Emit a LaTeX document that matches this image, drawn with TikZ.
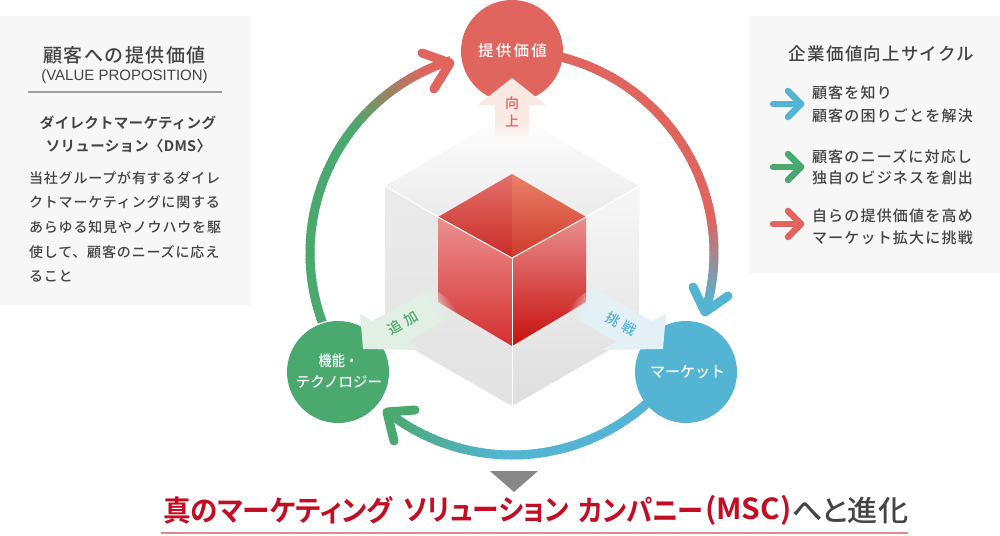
\documentclass[tikz,border=0pt]{standalone}
\usepackage{graphicx}
\usepackage{fontspec}
\usetikzlibrary{fadings,calc}
\setmainfont[BoldFont={Noto Sans CJK JP Bold}]{Noto Sans CJK JP Medium}
\newfontfamily\jpp[RawFeature=+palt,BoldFont={Noto Sans CJK JP Bold}]{Noto Sans CJK JP Medium}
\newfontfamily\lat{Liberation Sans}
\definecolor{cred}{HTML}{E0655E}
\definecolor{cblue}{HTML}{53B5D3}
\definecolor{cgreen}{HTML}{4AA96E}
\definecolor{panel}{HTML}{F7F7F7}
\definecolor{ink}{HTML}{444444}
\definecolor{deep}{HTML}{C30D23}
\definecolor{ulc}{HTML}{E2868F}
\definecolor{tl1}{HTML}{E4706A}\definecolor{tl2}{HTML}{C92B26}
\definecolor{tr1}{HTML}{EA8068}\definecolor{tr2}{HTML}{CF3A2C}
\definecolor{fl1}{HTML}{EC9090}\definecolor{fl2}{HTML}{D53030}
\definecolor{fr1}{HTML}{E99090}\definecolor{fr2}{HTML}{C70F0C}
\definecolor{pinkfade}{HTML}{FAE8E2}
\definecolor{greenfade}{HTML}{E2EFE5}
\definecolor{bluefade}{HTML}{E3F1F6}
\pgfdeclareverticalshading{tailshade}{100bp}{color(0bp)=(pgftransparent!100); color(45bp)=(pgftransparent!100); color(55bp)=(pgftransparent!0); color(100bp)=(pgftransparent!0)}
\pgfdeclarefading{tailfade}{\pgfuseshading{tailshade}}
\newcommand\fz[2]{\fontsize{#1}{#2}\selectfont}
\newcommand\ls[1]{\addfontfeatures{LetterSpace=#1}}
\tikzset{
  hubnode/.style={circle,minimum size=102pt,inner sep=0pt,text=white,align=center},
  label/.style={inner sep=0pt,outer sep=0pt,text=ink},
  ring/.style={line width=9pt},
  chev/.style={line width=9pt,line cap=round,line join=round},
  keyarrow/.style={line width=6.5pt,line cap=round,line join=round},
  headline/.style={inner sep=0pt,anchor=west},
}
\begin{document}
\begin{tikzpicture}[x=1pt,y=-1pt]
\useasboundingbox (0,0) rectangle (1000,535);
\fill[white] (0,0) rectangle (1000,535);
% panels
\fill[panel] (0,16) rectangle (251,305);
\fill[panel] (749,16) rectangle (1000,273);
% left panel text
\node[label] (lt1) at (124.5,55) {\fz{19}{22}\ls{8}顧客への提供価値};
\node[label] (lt2) at (124.5,77) {\lat\fz{15}{17}(VALUE PROPOSITION)};
\coordinate (ruleL) at (28,92); \coordinate (ruleR) at (222,92);
\draw[color=black!38,line width=1.3pt] (ruleL) -- (ruleR);
\node[label] (lt3) at (128,123) {\fz{14.5}{17}\bfseries\ls{2}ダイレクトマーケティング};
\node[label] (lt4) at (128.5,146) {\fz{14.5}{17}\bfseries\ls{2}ソリューション〈DMS〉};
\node[label,anchor=west] (lb1) at (29,178) {\fz{14}{16}\ls{6}当社グループが有するダイレ};
\node[label,anchor=west] (lb2) at (29,202.5) {\fz{14}{16}\ls{6}クトマーケティングに関する};
\node[label,anchor=west] (lb3) at (29,227) {\fz{14}{16}\ls{6}あらゆる知見やノウハウを駆};
\node[label,anchor=west] (lb4) at (29,252) {\fz{14}{16}\ls{6}使して、顧客のニーズに応え};
\node[label,anchor=west] (lb5) at (29,276) {\fz{14}{16}\ls{6}ること};
% right panel text
\node[label] (rt) at (881.5,54) {\fz{17.5}{20}\ls{7}企業価値向上サイクル};
\foreach \yy/\cc/\nn in {104/cblue/a,167/cgreen/b,224/cred/c}{
  \coordinate (s\nn) at (773,\yy);
  \coordinate (t\nn) at (801,\yy);
  \coordinate (u\nn) at (788,\yy-13);
  \coordinate (v\nn) at (788,\yy+13);
  \draw[keyarrow,color=\cc] (s\nn) -- (t\nn);
  \draw[keyarrow,color=\cc] (u\nn) -- (t\nn) -- (v\nn);
}
\node[label,anchor=west] (r1) at (812,93) {\fz{15}{18}\ls{8}顧客を知り};
\node[label,anchor=west] (r2) at (812,116) {\fz{15}{18}\ls{8}顧客の困りごとを解決};
\node[label,anchor=west] (r3) at (812,157) {\fz{15}{18}\ls{8}顧客のニーズに対応し};
\node[label,anchor=west] (r4) at (812,178) {\fz{15}{18}\ls{8}独自のビジネスを創出};
\node[label,anchor=west] (r5) at (812,216) {\fz{15}{18}\ls{8}自らの提供価値を高め};
\node[label,anchor=west] (r6) at (812,238) {\fz{15}{18}\ls{8}マーケット拡大に挑戦};
% outer cube
\shade[top color=white,bottom color=black!11] (512,112) -- (639,186) -- (512,260) -- (385,186) -- cycle;
\shade[top color=black!8,middle color=black!13,bottom color=black!11] (385,186) -- (512,260) -- (512,406) -- (385,333) -- cycle;
\shade[top color=black!3,middle color=black!12,bottom color=black!13] (639,186) -- (512,260) -- (512,406) -- (639,333) -- cycle;
\draw[white,line width=1pt] (385,186) -- (512,260) -- (639,186);
\draw[white,line width=1pt] (512,260) -- (512,406);
% inner cube
\shade[shading angle=-20,top color=tl1,bottom color=tl2] (512,174) -- (512,258) -- (438,217) -- cycle;
\shade[shading angle=20,top color=tr1,bottom color=tr2] (512,174) -- (586,217) -- (512,258) -- cycle;
\shade[shading angle=-45,top color=fl1,bottom color=fl2] (438,217) -- (512,258) -- (512,346) -- (438,302) -- cycle;
\shade[top color=fr1,bottom color=fr2] (586,217) -- (512,258) -- (512,346) -- (586,302) -- cycle;
\draw[white,line width=1pt] (438,217) -- (512,258) -- (586,217);
\draw[white,line width=1pt] (512,258) -- (512,346);
% cycle ring
\coordinate (hub) at (512,253);
\foreach \a in {78,77,...,-15}{
  \pgfmathtruncatemacro\p{min(100,max(0,(\a+14)/24*100))}
  \draw[ring,color=cred!\p!cblue] (hub) ++(\a:202pt) arc[start angle=\a,delta angle=-1.4,radius=202pt];
}
\foreach \a in {-48,-49,...,-126}{
  \pgfmathtruncatemacro\p{min(100,max(0,(\a+128)/36*100))}
  \draw[ring,color=cblue!\p!cgreen] (hub) ++(\a:202pt) arc[start angle=\a,delta angle=-1.4,radius=202pt];
}
\foreach \a in {200,199,...,109}{
  \pgfmathtruncatemacro\p{min(100,max(0,(\a-116)/26*100))}
  \draw[ring,color=cgreen!\p!cred] (hub) ++(\a:202pt) arc[start angle=\a,delta angle=-1.4,radius=202pt];
}
% arrow heads of the cycle
\coordinate (tipA) at (450,63); \coordinate (a1) at (422,53); \coordinate (a2) at (434,89);
\coordinate (tipB) at (705,312); \coordinate (b1) at (693,287); \coordinate (b2) at (728,296);
\coordinate (tipC) at (387,412); \coordinate (c1) at (415,410); \coordinate (c2) at (394,441);
\draw[chev,color=cred] (a1) -- (tipA) -- (a2);
\draw[chev,color=cblue] (b1) -- (tipB) -- (b2);
\draw[chev,color=cgreen] (c1) -- (tipC) -- (c2);
% hubs
\node[hubnode,fill=cred] (value) at (512,51) {};
\node[hubnode,fill=cgreen] (tech) at (338,372) {};
\node[hubnode,fill=cblue] (market) at (686,372) {};
\node[inner sep=0pt,text=white] (valuet) at (512.5,51) {\fz{15.5}{18}\ls{15}提供価値};
\node[inner sep=0pt,text=white] (techt1) at (338.5,361) {\fz{15}{18}\scalebox{.88}[1]{機能・}};
\node[inner sep=0pt,text=white] (techt2) at (339,382) {\fz{14.5}{18}テクノロジー};
\node[inner sep=0pt,text=white] (markett) at (687.5,372) {\fz{15}{18}マーケット};
% fading arrows
\fill[pinkfade,path fading=tailfade,fit fading=false,fading transform={shift={(512,130)},scale=2}]
  (512,78) -- (546,105) -- (529,105) -- (529,141) -- (495,141) -- (495,105) -- (478,105) -- cycle;
\fill[greenfade,path fading=tailfade,fit fading=false,fading transform={shift={(442,305)},rotate=120,scale=2}]
  (363,349) -- (360,314) -- (372,321) -- (433,288) -- (463,309) -- (408,342) -- (422,350) -- cycle;
\fill[bluefade,path fading=tailfade,fit fading=false,fading transform={shift={(582,305)},rotate=-120,scale=2}]
  (663,349) -- (666,314) -- (652,321) -- (592,288) -- (562,309) -- (616,342) -- (602,350) -- cycle;
\node[inner sep=0pt,text=cred] (up1) at (512,103) {\fz{14}{16}向};
\node[inner sep=0pt,text=cred] (up2) at (512,121) {\fz{14}{16}上};
\node[inner sep=0pt,text=cgreen,rotate=30] (add) at (403,323) {\fz{14}{16}\ls{30}追加};
\node[inner sep=0pt,text=cblue,rotate=-30] (chal) at (621,324) {\fz{14}{16}\ls{30}挑戦};
% conclusion
\coordinate (tri1) at (490,471); \coordinate (tri2) at (538,471); \coordinate (tri3) at (514,492);
\fill[color=black!47] (tri1) -- (tri2) -- (tri3) -- cycle;
\node[headline,text=deep] (h1) at (163,510) {\jpp\fz{29}{32}\bfseries\scalebox{.95}[1]{真のマーケティング}};
\node[headline,text=deep] (h2) at (403,510) {\jpp\fz{29}{32}\bfseries\scalebox{.92}[1]{ソリューション}};
\node[headline,text=deep] (h3) at (578,510) {\jpp\fz{29}{32}\bfseries\scalebox{.905}[1]{カンパニー}};
\node[headline,text=deep] (h4) at (705,510) {\jpp\fz{29}{32}\bfseries\scalebox{1.03}[1]{(MSC)}};
\node[headline,text=ink] (h5) at (792,510) {\jpp\fz{29}{32}\scalebox{1.04}[1]{へと進化}};
\coordinate (ul1) at (161,533); \coordinate (ul2) at (908,533);
\draw[color=ulc,line width=1.2pt] (ul1) -- (ul2);
\end{tikzpicture}
\end{document}
